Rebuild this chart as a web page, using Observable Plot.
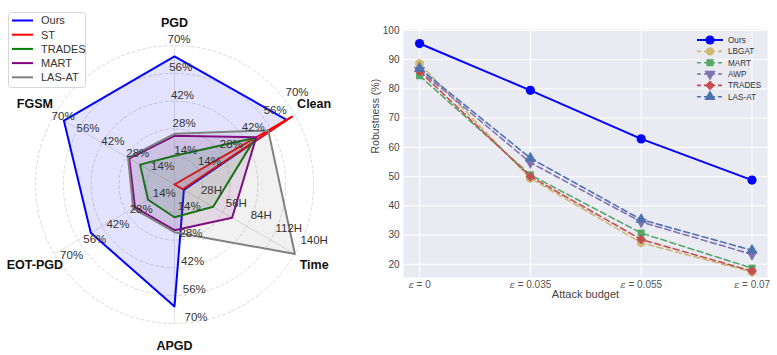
<!DOCTYPE html>
<html><head><meta charset="utf-8">
<script src="https://cdn.jsdelivr.net/npm/d3@7"></script>
<script src="https://cdn.jsdelivr.net/npm/@observablehq/plot@0.6"></script>
<style>
body{margin:0;background:#fff;font-family:"Liberation Sans",Arial,sans-serif;}
#wrap{position:relative;width:777px;height:355px;overflow:hidden;background:#fff;}
#left{position:absolute;left:0;top:0;}
#right{position:absolute;left:360px;top:0;}
#legL{position:absolute;left:0;top:0;}
#legR{position:absolute;left:690px;top:32px;}
</style></head><body>
<div id="wrap"><div id="left"></div><div id="right"></div><svg id="legL" width="100" height="100"></svg><svg id="legR" width="85" height="75"></svg></div>
<script>
// ---------------- Radar chart data ----------------
const radarAxes = ["Clean", "PGD", "FGSM", "EOT-PGD", "APGD", "Time"];
const radarSeries = ["Ours", "ST", "TRADES", "MART", "LAS-AT"];
const radarOurs   = [65.2, 64.5, 64.3, 48.7, 61.4, 10.9];
const radarST     = [68.3, 0, 0, 0, 0, 9.5];
const radarTRADES = [47.0, 14.5, 20.0, 15.4, 16.5, 45];
const radarMART   = [47.5, 24.5, 26.3, 23.0, 23.0, 67];
const radarLASAT  = [54.5, 25.5, 27.0, 24.0, 24.0, 140];
const radarMax    = [70, 70, 70, 70, 70, 140];
const pctTickLabels  = ["14%", "28%", "42%", "56%", "70%"];
const timeTickLabels = ["28H", "56H", "84H", "112H", "140H"];
const radarColors = ["#0000ff", "#ff0000", "#008000", "#800080", "#808080"];

// ---------------- Line chart data ----------------
const budgets = ["ε = 0", "ε = 0.035", "ε = 0.055", "ε = 0.07"];
const lineSeries = ["Ours", "LBGAT", "MART", "AWP", "TRADES", "LAS-AT"];
const oursRob   = [95.5, 79.5, 62.9, 48.8];
const lbgatRob  = [88.6, 49.4, 27.4, 17.4];
const martRob   = [84.5, 50.6, 30.7, 18.7];
const awpRob    = [86.4, 54.8, 34.5, 23.4];
const tradesRob = [86.0, 50.0, 28.5, 17.7];
const lasatRob  = [87.0, 56.3, 35.3, 24.8];
const yTicks = [20, 30, 40, 50, 60, 70, 80, 90, 100];
const lineColors = ["#0000ff", "#ccb974", "#55a868", "#8172b2", "#c44e52", "#4c72b0"];

const FONT = "Liberation Sans, Arial, sans-serif";

// ---------------- Radar ----------------
const deg = Math.PI / 180;
const theta = i => (30 + 60 * i) * deg;
const radarValues = [radarOurs, radarST, radarTRADES, radarMART, radarLASAT];
const radarRows = radarSeries.flatMap((s, si) => radarAxes.map((a, i) => {
  const u = radarValues[si][i] / radarMax[i];
  return {series: s, axis: a, x: u * Math.cos(theta(i)), y: u * Math.sin(theta(i))};
}));
const levels = [1, 2, 3, 4, 5];
const circleRows = levels.flatMap(k => d3.range(0, 361, 3).map(a => ({k, x: (k / 5) * Math.cos(a * deg), y: (k / 5) * Math.sin(a * deg)})));
const spokeRows = radarAxes.map((a, i) => ({x: Math.cos(theta(i)), y: Math.sin(theta(i))}));
const labelShift = radarAxes.map(a => a === "Clean" ? 8 : 3.5);
const tickRows = radarAxes.flatMap((a, i) => levels.map((k, j) => {
  const t = theta(i) + labelShift[i] * deg;
  return {label: (a === "Time" ? timeTickLabels : pctTickLabels)[j], x: (k / 5) * Math.cos(t), y: (k / 5) * Math.sin(t)};
}));
const catRows = radarAxes.map((a, i) => ({label: a, x: 1.16 * Math.cos(theta(i)), y: 1.16 * Math.sin(theta(i))}));

const cx = 174, cy = 184, R = 139, LW = 360, H = 355;
const left = Plot.plot({
  width: LW, height: H, margin: 0,
  style: {fontFamily: FONT, background: "transparent", overflow: "visible"},
  x: {domain: [-cx / R, (LW - cx) / R], axis: null},
  y: {domain: [-(H - cy) / R, cy / R], axis: null},
  color: {domain: radarSeries, range: radarColors},
  marks: [
    Plot.line(circleRows, {x: "x", y: "y", z: "k", stroke: "#d2d2d2", strokeWidth: 0.8, strokeDasharray: "3,2.5"}),
    Plot.link(spokeRows, {x1: 0, y1: 0, x2: "x", y2: "y", stroke: "#dadada", strokeWidth: 0.8}),
    Plot.line(radarRows, {x: "x", y: "y", z: "series", stroke: "series", fill: "series", fillOpacity: 0.11, strokeWidth: 2, curve: "linear-closed"}),
    Plot.text(tickRows, {x: "x", y: "y", text: "label", textAnchor: "start", lineAnchor: "bottom", dx: 1.5, dy: -2.5, fontSize: 11.5, fill: "#333"}),
    Plot.text(catRows, {x: "x", y: "y", text: "label", fontSize: 12.5, fontWeight: "bold", fill: "#111"})
  ]
});
document.getElementById("left").appendChild(left);

// left legend
{
  const g = d3.select("#legL");
  g.append("rect").attr("x", 8.5).attr("y", 12.5).attr("width", 77).attr("height", 75).attr("rx", 3)
    .attr("fill", "white").attr("fill-opacity", 0.85).attr("stroke", "#d6d6d6");
  radarSeries.forEach((s, j) => {
    const y = 20.5 + j * 14.2;
    g.append("line").attr("x1", 12).attr("x2", 33).attr("y1", y).attr("y2", y).attr("stroke", radarColors[j]).attr("stroke-width", 2);
    g.append("text").attr("x", 41).attr("y", y).attr("dy", "0.35em").attr("font-size", 11).attr("font-family", FONT).attr("fill", "#333").text(s);
  });
}

// ---------------- Line chart ----------------
const lineValues = [oursRob, lbgatRob, martRob, awpRob, tradesRob, lasatRob];
const symbols = ["circle", "hexagon", "square", "triangle", "square", "triangle"];
const rotates = [0, 0, 0, 180, 45, 0];
const sizes = [4.6, 4.2, 4.0, 4.2, 3.9, 4.2];
const lineRows = lineSeries.map((s, si) => lineValues[si].map((v, i) => ({series: s, i, v})));

const marks = [
  Plot.frame({fill: "#eaeaf2"}),
  Plot.gridX([0, 1, 2, 3], {stroke: "white", strokeOpacity: 1, strokeWidth: 1}),
  Plot.gridY(yTicks, {stroke: "white", strokeOpacity: 1, strokeWidth: 1}),
  Plot.axisX([0, 1, 2, 3], {tickSize: 0, tickPadding: 3, tickFormat: i => budgets[i], fontSize: 10, fill: "#555", label: null}),
  Plot.axisY(yTicks, {tickSize: 0, tickPadding: 4, fontSize: 10, fill: "#444", label: null}),
  Plot.text(["Attack budget"], {frameAnchor: "bottom", dy: 20, fontSize: 11, fill: "#444"}),
  Plot.text(["Robustness (%)"], {frameAnchor: "left", dx: -28, rotate: -90, fontSize: 10.5, fill: "#444"})
];
lineSeries.forEach((s, si) => {
  marks.push(Plot.line(lineRows[si], {x: "i", y: "v", stroke: lineColors[si], strokeWidth: si === 0 ? 2 : 1.6, strokeDasharray: si === 0 ? null : "6,3.5"}));
  marks.push(Plot.dot(lineRows[si], {x: "i", y: "v", fill: lineColors[si], symbol: symbols[si], r: sizes[si], rotate: rotates[si], stroke: "none"}));
});

const right = Plot.plot({
  width: 417, height: 355,
  marginLeft: 43, marginRight: 10, marginTop: 29, marginBottom: 78,
  style: {fontFamily: FONT, background: "transparent", overflow: "visible"},
  x: {domain: [-0.145, 3.14]},
  y: {domain: [15.5, 100.3]},
  marks
});
document.getElementById("right").appendChild(right);
d3.select(right).selectAll('g[aria-label="x-axis tick label"] text').each(function() {
  const t = this.textContent;
  const sel = d3.select(this);
  sel.text(null);
  sel.append("tspan").attr("font-style", "italic").attr("font-family", "DejaVu Serif").text(t.slice(0, 1));
  sel.append("tspan").text(t.slice(1));
});

// right legend
{
  const g = d3.select("#legR");
  lineSeries.forEach((s, j) => {
    const y = 8 + j * 11.35;
    g.append("line").attr("x1", 7).attr("x2", 33).attr("y1", y).attr("y2", y).attr("stroke", lineColors[j])
      .attr("stroke-width", j === 0 ? 2 : 1.6).attr("stroke-dasharray", j === 0 ? null : "4,3");
    const sym = {circle: d3.symbolCircle, hexagon: d3.symbolHexagon || d3.symbolCircle, square: d3.symbolSquare, triangle: d3.symbolTriangle}[symbols[j]];
    g.append("path").attr("d", d3.symbol(sym, Math.PI * sizes[j] * sizes[j])())
      .attr("transform", `translate(20,${y}) rotate(${rotates[j]})`).attr("fill", lineColors[j]);
    g.append("text").attr("x", 38).attr("y", y).attr("dy", "0.35em").attr("font-size", 8.2).attr("font-family", FONT).attr("fill", "#333").text(s);
  });
}
</script>
</body></html>
